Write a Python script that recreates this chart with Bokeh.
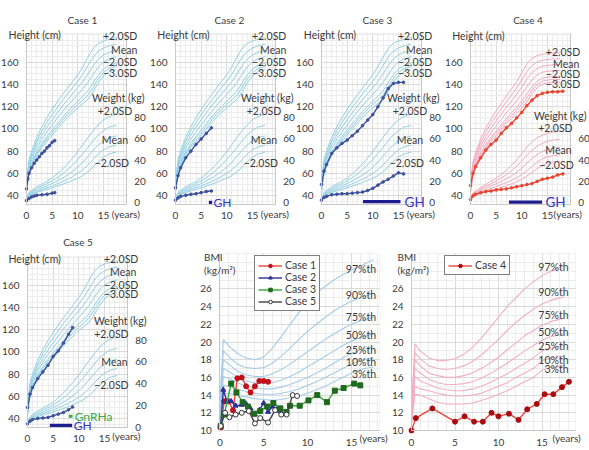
from bokeh.plotting import figure
from bokeh.models import Range1d, LinearAxis, FixedTicker, Label, Legend, LegendItem, BoxAnnotation
from bokeh.layouts import row, column
from bokeh.embed import file_html
from bokeh.resources import INLINE

FONT = "Lato"
TXT = "#3a3a3a"

# ---------------- reference growth curves ----------------
AGE_REF = [0, 0.5, 1, 2, 3, 4, 5, 6, 7, 8, 9, 10, 11, 12, 13, 14, 15, 16, 17.5]

BOY_H_P2 = [53.2, 72.3, 80.1, 92.6, 102.1, 110.2, 117.5, 124.3, 130.8, 136.8, 142.9, 149.1, 156.0, 164.8, 172.6, 177.1, 179.2, 180.7, 182.4]
BOY_H_P1 = [51.1, 69.9, 77.5, 89.3, 98.3, 106.0, 112.9, 119.4, 125.7, 131.5, 137.3, 143.1, 149.4, 157.2, 164.8, 170.0, 172.9, 174.8, 176.6]
BOY_H_M = [49.0, 67.5, 74.9, 86.0, 94.5, 101.8, 108.3, 114.5, 120.6, 126.2, 131.7, 137.1, 142.8, 149.6, 157.0, 162.9, 166.6, 168.9, 170.8]
BOY_H_M1 = [46.9, 65.1, 72.3, 82.7, 90.7, 97.6, 103.7, 109.6, 115.5, 120.9, 126.1, 131.1, 136.2, 142.0, 149.2, 155.8, 160.3, 163.0, 165.0]
BOY_H_M2 = [44.8, 62.7, 69.7, 79.4, 86.9, 93.4, 99.1, 104.7, 110.4, 115.6, 120.5, 125.1, 129.6, 134.4, 141.4, 148.7, 154.0, 157.1, 159.2]
BOY_H_M25 = [43.8, 61.5, 68.4, 77.8, 85.0, 91.3, 96.8, 102.3, 107.9, 113.0, 117.7, 122.1, 126.3, 130.6, 137.5, 145.2, 150.9, 154.2, 156.3]
BOY_H_M3 = [42.7, 60.3, 67.1, 76.1, 83.1, 89.2, 94.5, 99.8, 105.3, 110.3, 114.9, 119.1, 123.0, 126.8, 133.6, 141.6, 147.7, 151.2, 153.4]

BOY_W_P2 = [3.9, 9.8, 11.5, 15.0, 17.5, 20.0, 23.0, 27.0, 31.5, 36.5, 42.0, 48.0, 54.5, 61.0, 67.5, 73.0, 77.5, 80.5, 83.0]
BOY_W_P1 = [3.45, 8.8, 10.4, 13.5, 15.7, 18.0, 20.5, 23.5, 27.0, 31.0, 35.5, 40.5, 46.0, 52.0, 58.0, 63.5, 67.5, 70.5, 72.5]
BOY_W_M = [3.0, 7.9, 9.3, 12.0, 14.0, 16.0, 18.0, 20.5, 23.0, 26.0, 29.5, 33.5, 38.0, 43.5, 49.0, 54.0, 58.0, 60.5, 62.5]
BOY_W_M1 = [2.6, 7.0, 8.3, 10.7, 12.5, 14.2, 15.8, 17.8, 19.8, 22.0, 24.5, 27.5, 31.0, 35.5, 40.5, 45.5, 49.5, 52.0, 54.0]
BOY_W_M2 = [2.2, 6.2, 7.4, 9.6, 11.1, 12.6, 14.0, 15.6, 17.2, 19.0, 21.0, 23.0, 25.5, 29.0, 33.5, 38.5, 42.5, 45.5, 47.5]

GIRL_H_P2 = [52.7, 70.6, 78.5, 91.4, 100.9, 109.0, 116.3, 123.1, 129.6, 135.9, 142.8, 150.7, 158.6, 163.6, 166.1, 167.3, 167.9, 168.3, 168.6]
GIRL_H_P1 = [50.6, 68.3, 76.0, 88.2, 97.2, 104.9, 111.8, 118.3, 124.6, 130.6, 137.0, 144.3, 151.8, 157.2, 160.3, 161.9, 162.6, 163.0, 163.3]
GIRL_H_M = [48.5, 66.0, 73.5, 85.0, 93.5, 100.8, 107.3, 113.5, 119.6, 125.3, 131.2, 137.9, 145.0, 150.8, 154.5, 156.5, 157.3, 157.7, 158.0]
GIRL_H_M1 = [46.4, 63.7, 71.0, 81.8, 89.8, 96.7, 102.8, 108.7, 114.6, 120.0, 125.4, 131.5, 138.2, 144.4, 148.7, 151.1, 152.0, 152.4, 152.7]
GIRL_H_M2 = [44.3, 61.4, 68.5, 78.6, 86.1, 92.6, 98.3, 103.9, 109.6, 114.7, 119.6, 125.1, 131.4, 138.0, 142.9, 145.7, 146.7, 147.1, 147.4]
GIRL_H_M25 = [43.3, 60.3, 67.3, 77.0, 84.3, 90.6, 96.1, 101.5, 107.1, 112.1, 116.7, 121.9, 128.0, 134.8, 140.0, 143.0, 144.1, 144.5, 144.8]
GIRL_H_M3 = [42.2, 59.1, 66.0, 75.4, 82.4, 88.5, 93.8, 99.1, 104.6, 109.4, 113.8, 118.7, 124.6, 131.6, 137.1, 140.3, 141.4, 141.8, 142.1]

GIRL_W_P2 = [3.8, 9.3, 10.9, 14.3, 17.3, 20.0, 23.0, 26.5, 30.5, 35.0, 40.0, 46.0, 52.0, 57.0, 61.0, 63.0, 65.0, 66.0, 67.0]
GIRL_W_P1 = [3.4, 8.4, 9.9, 12.9, 15.5, 17.8, 20.3, 23.2, 26.4, 30.0, 34.0, 39.0, 44.5, 49.0, 53.0, 55.5, 57.5, 58.5, 59.5]
GIRL_W_M = [2.95, 7.5, 8.9, 11.5, 13.7, 15.7, 17.7, 20.0, 22.5, 25.3, 28.5, 32.5, 37.0, 41.5, 45.0, 48.0, 50.0, 51.0, 52.0]
GIRL_W_M1 = [2.55, 6.6, 7.9, 10.1, 11.9, 13.6, 15.2, 17.0, 19.0, 21.0, 23.5, 26.5, 30.0, 34.0, 38.0, 41.0, 43.0, 44.0, 45.0]
GIRL_W_M2 = [2.2, 5.8, 7.0, 8.8, 10.3, 11.7, 13.0, 14.5, 16.0, 17.7, 19.5, 22.0, 25.0, 28.5, 32.0, 35.0, 37.0, 38.0, 39.0]

# ---------------- BMI percentile curves ----------------
AGE_BMI = [0, 0.4, 1, 2, 3, 4, 5, 6, 7, 8, 9, 10, 11, 12, 13, 14, 15, 16, 17.5]
BOY_B97 = [12.5, 20.3, 19.6, 18.7, 18.2, 18.0, 18.3, 19.3, 20.6, 22.0, 23.3, 24.5, 25.5, 26.3, 27.0, 27.6, 28.1, 28.6, 29.3]
BOY_B90 = [12.2, 19.0, 18.4, 17.5, 17.1, 17.0, 17.1, 17.6, 18.4, 19.3, 20.3, 21.2, 22.0, 22.8, 23.5, 24.1, 24.6, 25.0, 25.5]
BOY_B75 = [11.9, 18.0, 17.5, 16.7, 16.3, 16.1, 16.1, 16.4, 16.9, 17.5, 18.2, 18.9, 19.6, 20.3, 20.9, 21.5, 22.0, 22.4, 22.8]
BOY_B50 = [11.6, 17.0, 16.7, 16.0, 15.6, 15.4, 15.3, 15.4, 15.7, 16.1, 16.6, 17.2, 17.8, 18.4, 19.0, 19.6, 20.1, 20.5, 20.9]
BOY_B25 = [11.3, 16.1, 15.9, 15.4, 15.0, 14.8, 14.7, 14.7, 14.9, 15.2, 15.6, 16.0, 16.5, 17.0, 17.6, 18.2, 18.7, 19.1, 19.4]
BOY_B10 = [11.0, 15.1, 15.0, 14.7, 14.4, 14.2, 14.1, 14.1, 14.2, 14.4, 14.7, 15.1, 15.5, 16.0, 16.5, 17.0, 17.5, 17.9, 18.2]
BOY_B03 = [10.7, 14.2, 14.2, 14.0, 13.8, 13.6, 13.5, 13.4, 13.5, 13.7, 13.9, 14.2, 14.6, 15.0, 15.5, 16.0, 16.5, 16.9, 17.2]

GIRL_B97 = [12.5, 19.8, 19.0, 18.2, 17.9, 17.9, 18.1, 18.6, 19.4, 20.4, 21.6, 22.8, 24.0, 25.0, 26.0, 26.8, 27.5, 28.0, 28.6]
GIRL_B90 = [12.2, 18.8, 18.1, 17.3, 17.0, 16.9, 17.0, 17.3, 17.8, 18.5, 19.4, 20.3, 21.3, 22.2, 23.0, 23.7, 24.3, 24.7, 25.1]
GIRL_B75 = [11.9, 18.0, 17.3, 16.5, 16.2, 16.0, 16.0, 16.2, 16.5, 17.0, 17.6, 18.3, 19.1, 19.9, 20.7, 21.3, 21.9, 22.3, 22.7]
GIRL_B50 = [11.6, 17.0, 16.5, 15.8, 15.4, 15.2, 15.2, 15.3, 15.5, 15.9, 16.4, 17.0, 17.6, 18.3, 19.0, 19.6, 20.2, 20.6, 20.9]
GIRL_B25 = [11.3, 16.1, 15.6, 15.2, 14.8, 14.6, 14.5, 14.5, 14.7, 15.0, 15.4, 15.9, 16.4, 17.0, 17.6, 18.2, 19.0, 19.3, 19.6]
GIRL_B10 = [11.0, 15.0, 14.7, 14.5, 14.2, 14.0, 13.9, 13.9, 14.0, 14.2, 14.6, 15.0, 15.4, 16.0, 16.5, 17.0, 17.9, 18.2, 18.4]
GIRL_B03 = [10.7, 14.1, 14.0, 13.6, 13.2, 13.0, 13.0, 13.0, 13.1, 13.4, 13.7, 14.1, 14.5, 15.0, 15.5, 16.0, 16.8, 17.1, 17.3]

# ---------------- patients ----------------
C1_H_AGE = [0, 0.25, 0.5, 1, 1.5, 2, 2.5, 3, 3.5, 4, 4.5, 5, 5.5]
C1_H = [46, 55, 60, 65, 69, 72, 75, 78, 80, 83, 85, 88, 89.5]
C1_W_AGE = [0, 0.5, 1, 1.5, 2, 3, 4, 5, 5.5]
C1_W = [2.0, 4.0, 5.5, 6.3, 7.0, 7.5, 8.0, 9.0, 9.5]

C2_AGE = [0, 0.5, 1, 2, 3, 4, 5, 6, 7]
C2_H = [47, 58, 65, 74, 80, 86, 91, 96, 101]
C2_W = [2.5, 4.5, 6.0, 7.0, 8.0, 8.5, 9.5, 10.5, 11.0]

C3_AGE = [0, 0.5, 1, 2, 3, 4, 5, 6, 7, 8, 9, 10, 11, 12, 13, 14, 15, 16]
C3_H = [50, 62, 68, 78, 83, 87, 90, 94, 98, 103, 108, 113, 120, 128, 136.5, 141, 142, 142]
C3_W = [2.5, 5.0, 6.0, 7.5, 8.0, 8.5, 8.5, 9.0, 9.5, 10.0, 11.5, 13.5, 16.5, 19.5, 22.0, 25.0, 28.0, 27.0]

C4_AGE = [0, 0.5, 1, 2, 3, 4, 5, 6, 7, 8, 9, 10, 11, 12, 13, 14, 15, 16, 17, 18]
C4_H = [49, 60, 66, 74, 81, 86, 90, 96, 101, 105, 110, 115, 121, 126, 130, 132, 133, 133.5, 133.5, 134]
C4_W = [3, 6.5, 8, 9.5, 10.5, 11, 12, 12.5, 13, 14, 15, 16, 17, 18, 20, 22, 23, 24, 26, 27]

C5_AGE = [0, 0.5, 1, 2, 3, 4, 5, 6, 7, 8, 8.8]
C5_H = [50, 62, 68, 76, 82, 88, 96, 101, 108, 116, 122]
C5_W = [3.0, 5.5, 7.0, 8.0, 8.5, 9.0, 10.5, 12.0, 13.5, 16.0, 18.5]

# treatment periods (years)
C2_GH = [6.5, 7.15]
C3_GH = [8.1, 15.4]
C4_GH = [7.5, 13.95]
C5_GH = [4.35, 8.7]
C5_GNRHA = [8.05, 8.8]

# BMI of patients
C1_B_AGE = [0.1, 0.5, 1.0, 1.5, 2.0, 2.5, 3.0, 3.5, 4.0, 4.5, 5.0, 5.5]
C1_B = [10.3, 13.3, 13.3, 12.3, 15.9, 16.0, 15.0, 14.3, 15.0, 15.6, 15.6, 15.5]
C2_B_AGE = [0.1, 0.4, 0.8, 1.3, 1.8, 2.5, 3.0, 3.5, 4.0, 4.5, 5.0, 5.5, 6.0, 6.5, 7.0]
C2_B = [10.6, 14.6, 13.3, 13.3, 12.8, 12.9, 13.0, 12.5, 11.8, 12.3, 13.1, 12.1, 12.7, 12.4, 12.0]
C3_B_AGE = [0.1, 0.5, 1.3, 1.9, 2.6, 3.2, 3.9, 4.6, 5.4, 6.1, 6.9, 7.6, 8.0, 9.1, 10.1, 11.1, 12.2, 13.1, 14.1, 15.3, 16.0]
C3_B = [10.5, 11.8, 15.3, 14.3, 13.2, 12.7, 11.9, 12.2, 12.7, 13.1, 12.5, 12.1, 12.8, 12.8, 13.4, 14.0, 13.2, 14.5, 14.8, 15.3, 15.1]
C5_B_AGE = [0.1, 0.6, 1.1, 1.8, 2.5, 3.3, 4.0, 4.6, 5.5, 6.3, 7.0, 7.6, 8.3, 8.8]
C5_B = [10.5, 12.0, 11.5, 11.8, 12.0, 12.2, 10.8, 11.4, 10.9, 12.3, 11.8, 11.8, 14.0, 13.9]
C4_B_AGE = [0, 0.5, 2.4, 5.0, 6.1, 7.2, 8.2, 9.2, 10.0, 11.2, 12.3, 13.3, 14.4, 15.3, 16.3, 17.3, 18.1]
C4_B = [10.0, 11.4, 12.5, 11.0, 11.6, 11.0, 11.0, 12.0, 11.6, 11.9, 11.2, 12.4, 13.0, 14.1, 14.1, 14.9, 15.5]

HEIGHT_TICKS = [40, 60, 80, 100, 120, 140, 160]
WEIGHT_TICKS_BOY = [0, 20, 40, 60, 80]
WEIGHT_TICKS_GIRL = [0, 20, 40, 60]
YEAR_TICKS = [0, 5, 10, 15]
BMI_TICKS = [10, 12, 14, 16, 18, 20, 22, 24, 26]
SD_LABELS = ["+2.0SD", "Mean", "\u22122.0SD", "\u22123.0SD"]
W_LABELS = ["+2.0SD", "Mean", "\u22122.0SD"]
PCT_LABELS = ["97%th", "90%th", "75%th", "50%th", "25%th", "10%th", "3%th"]

BOY_H = [BOY_H_P2, BOY_H_P1, BOY_H_M, BOY_H_M1, BOY_H_M2, BOY_H_M25, BOY_H_M3]
BOY_W = [BOY_W_P2, BOY_W_P1, BOY_W_M, BOY_W_M1, BOY_W_M2]
GIRL_H = [GIRL_H_P2, GIRL_H_P1, GIRL_H_M, GIRL_H_M1, GIRL_H_M2, GIRL_H_M25, GIRL_H_M3]
GIRL_W = [GIRL_W_P2, GIRL_W_P1, GIRL_W_M, GIRL_W_M1, GIRL_W_M2]
BOY_B = [BOY_B97, BOY_B90, BOY_B75, BOY_B50, BOY_B25, BOY_B10, BOY_B03]
GIRL_B = [GIRL_B97, GIRL_B90, GIRL_B75, GIRL_B50, GIRL_B25, GIRL_B10, GIRL_B03]

BLUE_REF = "#93d0e3"
PINK_REF = "#f2a9c0"
BLUE_BMI = "#a4cde9"
PINK_BMI = "#f3aec5"
PAT_BLUE = "#3d519e"
PAT_RED = "#e8442e"
GH_COLOR = "#1d1d8f"
GH_TEXT = "#3535c4"
GN_COLOR = "#3aa845"
AXIS_COL = "#c4c4c4"

# geometry (pixels)
ROW_H = 225
PX_YEAR = 5.13     # growth panels: px per year
PX_CM = 1.11       # growth panels: px per cm
H_LO, H_HI = 32, 186
X_END = 19.45
PX_BMI = 8.85
B_LO, B_HI = 10, 30
TICK_FS = "10px"
LAB_FS = "10.5px"


def style_axis(ax, line=True):
    ax.major_tick_line_color = None
    ax.minor_tick_line_color = None
    ax.axis_line_color = AXIS_COL if line else None
    ax.major_label_text_font = FONT
    ax.major_label_text_font_size = TICK_FS
    ax.major_label_text_color = TXT
    ax.major_label_standoff = 2


def txt(p, x, y, text, align="left", size=LAB_FS, color=TXT):
    p.add_layout(Label(x=x, y=y, text=text, text_align=align, text_baseline="middle",
                       text_font=FONT, text_font_size=size, text_color=color))


def base_fig(w, xr, yr):
    p = figure(width=w, height=ROW_H, x_range=Range1d(*xr), y_range=Range1d(*yr),
               output_backend="svg", toolbar_location=None,
               min_border_left=0, min_border_right=0, min_border_top=0, min_border_bottom=0)
    p.title.visible = False
    p.outline_line_color = None
    p.background_fill_color = "white"
    p.border_fill_color = "white"
    for g in (p.xgrid, p.ygrid):
        g.grid_line_color = "#dadada"
        g.minor_grid_line_color = "#ececec"
    return p


def growth_panel(cfg):
    W, L, T = cfg["w"], cfg["L"], cfg["T"]
    xr = (-L / PX_YEAR, (W - L) / PX_YEAR)
    yr = (H_HI - (ROW_H - T) / PX_CM, H_HI + T / PX_CM)
    p = base_fig(W, xr, yr)
    w0, ws = cfg["w0"], cfg["ws"]
    p.extra_y_ranges = {"w": Range1d(-(ROW_H - w0) / ws, w0 / ws)}
    wb = ((w0 - (T + (H_HI - H_LO) * PX_CM)) / ws, (w0 - T) / ws)

    p.xaxis.ticker = FixedTicker(ticks=YEAR_TICKS, minor_ticks=list(range(0, 20)))
    p.yaxis.ticker = FixedTicker(ticks=HEIGHT_TICKS, minor_ticks=list(range(35, 186, 5)))
    p.xaxis.fixed_location = H_LO
    p.xaxis.bounds = (0, X_END)
    p.yaxis.fixed_location = 0
    p.yaxis.bounds = (H_LO, H_HI)
    style_axis(p.xaxis[0])
    style_axis(p.yaxis[0])
    p.xgrid.bounds = (0, X_END)
    p.xgrid.cross_bounds = (H_LO, H_HI)
    p.ygrid.bounds = (H_LO, H_HI)
    p.ygrid.cross_bounds = (0, X_END)
    ax = LinearAxis(y_range_name="w", ticker=FixedTicker(ticks=cfg["wticks"]),
                    fixed_location=X_END, bounds=wb)
    style_axis(ax)
    p.add_layout(ax, "right")
    p.add_layout(BoxAnnotation(left=0, right=X_END, bottom=H_LO, top=H_HI,
                               fill_color=None, fill_alpha=0, line_color="#d6d6d6", line_width=1))

    col = cfg["ref_color"]
    for c in cfg["ref_h"]:
        p.line(AGE_REF, c, color=col, line_width=1)
    for c in cfg["ref_w"]:
        p.line(AGE_REF, c, color=col, line_width=1, y_range_name="w")

    pc = cfg["pt_color"]
    p.line(cfg["h_age"], cfg["h"], color=pc, line_width=1.4)
    p.scatter(cfg["h_age"], cfg["h"], size=2.6, color=pc)
    p.line(cfg["w_age"], cfg["w_"], color=pc, line_width=1.4, y_range_name="w")
    p.scatter(cfg["w_age"], cfg["w_"], size=2.6, color=pc, y_range_name="w")

    for (a0, a1), yv, col_, text, tx, size in cfg.get("bars", []):
        p.line([a0, a1], [yv, yv], color=col_, line_width=3.2)
        txt(p, tx, yv, text, size=size, color=GH_TEXT if text == "GH" else GN_COLOR)

    for x, y, t, al, s in cfg["labels"]:
        txt(p, x, y, t, align=al, size=s)
    return p


def boy_labels(title, title_x, hleft):
    return [
        (title_x, 198.6, title, "center", "10px"),
        (hleft, 184.6, "Height (cm)", "left", LAB_FS),
        (21.6, 183.3, SD_LABELS[0], "right", LAB_FS),
        (21.6, 170.9, SD_LABELS[1], "right", LAB_FS),
        (21.6, 160.0, SD_LABELS[2], "right", LAB_FS),
        (21.6, 150.8, SD_LABELS[3], "right", LAB_FS),
        (23.0, 127.6, "Weight (kg)", "right", LAB_FS),
        (20.6, 116.6, W_LABELS[0], "right", LAB_FS),
        (19.8, 90.4, W_LABELS[1], "right", LAB_FS),
        (20.0, 69.5, W_LABELS[2], "right", LAB_FS),
        (16.6, 23.6, "(years)", "left", "10px"),
    ]


TOP = dict(T=33, w0=202.3, ws=1.07)

p1 = growth_panel(dict(TOP, w=149, L=26, wticks=WEIGHT_TICKS_BOY,
                       ref_color=BLUE_REF, ref_h=BOY_H, ref_w=BOY_W, pt_color=PAT_BLUE,
                       h_age=C1_H_AGE, h=C1_H, w_age=C1_W_AGE, w_=C1_W,
                       labels=boy_labels("Case 1", 10.9, -3.5)))
p2 = growth_panel(dict(TOP, w=147, L=26, wticks=WEIGHT_TICKS_BOY,
                       ref_color=BLUE_REF, ref_h=BOY_H, ref_w=BOY_W, pt_color=PAT_BLUE,
                       h_age=C2_AGE, h=C2_H, w_age=C2_AGE, w_=C2_W,
                       bars=[(C2_GH, 33.8, GH_COLOR, "GH", 7.4, "12px")],
                       labels=boy_labels("Case 2", 10.5, -3.55)))
p3 = growth_panel(dict(TOP, w=147, L=25, wticks=WEIGHT_TICKS_BOY,
                       ref_color=BLUE_REF, ref_h=BOY_H, ref_w=BOY_W, pt_color=PAT_BLUE,
                       h_age=C3_AGE, h=C3_H, w_age=C3_AGE, w_=C3_W,
                       bars=[(C3_GH, 34.6, GH_COLOR, "GH", 16.2, "13.5px")],
                       labels=boy_labels("Case 3", 10.9, -3.45)))
p4 = growth_panel(dict(TOP, w=146, L=27, wticks=WEIGHT_TICKS_GIRL,
                       ref_color=PINK_REF, ref_h=GIRL_H, ref_w=GIRL_W, pt_color=PAT_RED,
                       h_age=C4_AGE, h=C4_H, w_age=C4_AGE, w_=C4_W,
                       bars=[(C4_GH, 34.0, GH_COLOR, "GH", 14.6, "13.5px")],
                       labels=[
                           (11.2, 198.3, "Case 4", "center", "10px"),
                           (-3.57, 183.9, "Height (cm)", "left", LAB_FS),
                           (21.4, 169.2, SD_LABELS[0], "right", LAB_FS),
                           (21.2, 158.7, SD_LABELS[1], "right", LAB_FS),
                           (21.4, 149.1, SD_LABELS[2], "right", LAB_FS),
                           (21.4, 140.7, SD_LABELS[3], "right", LAB_FS),
                           (22.6, 112.1, "Weight (kg)", "right", LAB_FS),
                           (19.9, 100.7, W_LABELS[0], "right", LAB_FS),
                           (19.7, 81.2, W_LABELS[1], "right", LAB_FS),
                           (20.1, 67.1, W_LABELS[2], "right", LAB_FS),
                           (16.2, 23.6, "(years)", "left", "10px"),
                       ]))
p5 = growth_panel(dict(T=31, w0=201.7, ws=1.09, w=195, L=27, wticks=WEIGHT_TICKS_BOY,
                       ref_color=BLUE_REF, ref_h=BOY_H, ref_w=BOY_W, pt_color=PAT_BLUE,
                       h_age=C5_AGE, h=C5_H, w_age=C5_AGE, w_=C5_W,
                       bars=[(C5_GNRHA, 42.1, GN_COLOR, "GnRHa", 9.2, "12px"),
                             (C5_GH, 33.8, GH_COLOR, "GH", 9.0, "12px")],
                       labels=[
                           (9.84, 198.9, "Case 5", "center", "10px"),
                           (-3.7, 183.9, "Height (cm)", "left", LAB_FS),
                           (21.6, 183.9, SD_LABELS[0], "right", LAB_FS),
                           (21.2, 171.9, SD_LABELS[1], "right", LAB_FS),
                           (21.6, 159.9, SD_LABELS[2], "right", LAB_FS),
                           (21.6, 151.8, SD_LABELS[3], "right", LAB_FS),
                           (23.2, 128.3, "Weight (kg)", "right", LAB_FS),
                           (19.7, 116.4, W_LABELS[0], "right", LAB_FS),
                           (19.5, 90.8, W_LABELS[1], "right", LAB_FS),
                           (19.7, 70.4, W_LABELS[2], "right", LAB_FS),
                           (16.5, 24.7, "(years)", "left", "10px"),
                       ]))


def bmi_panel(cfg):
    W, L, T, pxy, xe = cfg["w"], cfg["L"], 28, cfg["pxy"], cfg["x_end"]
    xr = (-L / pxy, (W - L) / pxy)
    yr = (B_HI - (ROW_H - T) / PX_BMI, B_HI + T / PX_BMI)
    p = base_fig(W, xr, yr)
    p.xaxis.ticker = FixedTicker(ticks=YEAR_TICKS, minor_ticks=list(range(0, 19)))
    p.yaxis.ticker = FixedTicker(ticks=BMI_TICKS, minor_ticks=list(range(11, 30)))
    p.xaxis.fixed_location = B_LO
    p.xaxis.bounds = (0, xe)
    p.yaxis.fixed_location = 0
    p.yaxis.bounds = (B_LO, B_HI)
    style_axis(p.xaxis[0])
    style_axis(p.yaxis[0])
    p.xgrid.bounds = (0, xe)
    p.xgrid.cross_bounds = (B_LO, B_HI)
    p.ygrid.bounds = (B_LO, B_HI)
    p.ygrid.cross_bounds = (0, xe)
    p.add_layout(BoxAnnotation(left=0, right=xe, bottom=B_LO, top=B_HI,
                               fill_color=None, fill_alpha=0, line_color="#d6d6d6", line_width=1))
    for c in cfg["curves"]:
        p.line(AGE_BMI, c, color=cfg["ref_color"], line_width=1.1)
    items = []
    for name, ages, vals, lc, marker, fc, mc in cfg["patients"]:
        r1 = p.line(ages, vals, color=lc, line_width=1.4)
        r2 = p.scatter(ages, vals, marker=marker, size=5, fill_color=fc, line_color=mc, line_width=1)
        items.append(LegendItem(label=name, renderers=[r1, r2]))
    lg = Legend(items=items, location=cfg["legend_loc"])
    lg.border_line_color = "black"
    lg.border_line_width = 1
    lg.background_fill_color = "white"
    lg.background_fill_alpha = 1
    lg.label_text_font = FONT
    lg.label_text_font_size = LAB_FS
    lg.label_text_color = TXT
    lg.label_text_line_height = 1.0
    lg.glyph_width = 24
    lg.glyph_height = 9
    lg.label_height = 9
    lg.spacing = 0
    lg.padding = 3
    lg.margin = 0
    lg.label_standoff = 3
    p.add_layout(lg)
    txt(p, cfg["ylab_x"], 29.6, "BMI", size="10px")
    txt(p, cfg["ylab_x"], 28.1, "(kg/m\u00b2)", size="10px")
    for t, yv in zip(PCT_LABELS, cfg["pct_y"]):
        txt(p, cfg["pct_x"], yv, t, align="right", size=LAB_FS)
    txt(p, cfg["years_x"], 9.15, "(years)", size="10px")
    return p


b1 = bmi_panel(dict(w=197, L=24.3, pxy=8.78, x_end=18.2, curves=BOY_B, ref_color=BLUE_BMI,
                    patients=[("Case 1", C1_B_AGE, C1_B, "#e8463c", "circle", "#c0101a", "#c0101a"),
                              ("Case 2", C2_B_AGE, C2_B, "#2b2f95", "triangle", "#2b2f95", "#2b2f95"),
                              ("Case 3", C3_B_AGE, C3_B, "#3aa33a", "square", "#1e6a1e", "#1e6a1e"),
                              ("Case 5", C5_B_AGE, C5_B, "#444444", "circle", "white", "#333333")],
                    legend_loc=(59, 139), ylab_x=-1.8,
                    pct_x=17.8, pct_y=[28.3, 25.3, 22.8, 20.8, 19.1, 17.7, 16.4], years_x=15.9))
b2 = bmi_panel(dict(w=197, L=19, pxy=8.7, x_end=18.85, curves=GIRL_B, ref_color=PINK_BMI,
                    patients=[("Case 4", C4_B_AGE, C4_B, "#e8463c", "circle", "#a80c10", "#a80c10")],
                    legend_loc=(52, 175), ylab_x=-1.6,
                    pct_x=18.05, pct_y=[28.5, 25.6, 23.1, 21.1, 19.5, 18.0, 16.9], years_x=16.2))

layout = column(row(p1, p2, p3, p4), row(p5, b1, b2))
open("out.html", "w").write(file_html(layout, INLINE))
